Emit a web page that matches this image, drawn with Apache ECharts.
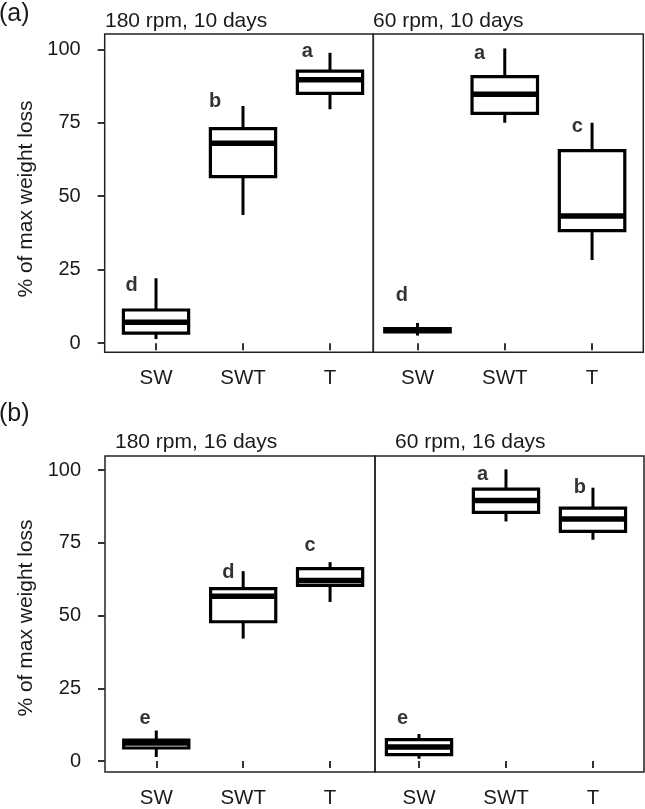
<!DOCTYPE html>
<html>
<head>
<meta charset="utf-8">
<script src="https://cdn.jsdelivr.net/npm/echarts@6/dist/echarts.min.js"></script>
<style>
html,body{margin:0;padding:0;background:#fff;}
#main{width:645px;height:809px;}
</style>
</head>
<body>
<div id="main"></div>
<script>
// ---- data ----
const categories = ['SW', 'SWT', 'T'];
const yTicks = [0, 25, 50, 75, 100];
const panelTitles = ['180 rpm, 10 days', '60 rpm, 10 days', '180 rpm, 16 days', '60 rpm, 16 days'];
// each box: [lower whisker, Q1, median, Q3, upper whisker]
const boxes_180rpm_10d = [[1.4, 3.4, 7.1, 11.3, 22.1], [43.6, 56.7, 68.0, 73.0, 80.7], [79.6, 85.0, 89.6, 92.6, 98.8]];
const boxes_60rpm_10d  = [[2.6, 3.8, 4.4, 5.0, 6.9], [75.0, 78.2, 84.7, 90.7, 100.3], [28.3, 38.3, 43.3, 65.5, 75.0]];
const boxes_180rpm_16d = [[1.4, 4.5, 6.2, 7.2, 10.5], [42.1, 47.9, 56.7, 59.3, 65.3], [54.7, 60.4, 62.1, 66.2, 68.4]];
const boxes_60rpm_16d  = [[0.8, 2.2, 4.8, 7.4, 9.3], [82.4, 85.5, 89.6, 93.5, 100.3], [76.1, 79.0, 83.2, 87.0, 94.0]];
// significance letters: text, x (category index, 1-based), y value
const letters_180rpm_10d = [['d', 0.72, 19.8], ['b', 1.68, 82.2], ['a', 2.74, 99.2]];
const letters_60rpm_10d  = [['d', 0.82, 16.4], ['a', 1.71, 98.6], ['c', 2.83, 73.7]];
const letters_180rpm_16d = [['e', 0.87, 14.5], ['d', 1.83, 64.9], ['c', 2.77, 74.2]];
const letters_60rpm_16d  = [['e', 0.81, 14.5], ['a', 1.73, 98.7], ['b', 2.85, 94.2]];

// ---- layout ----
const FONT = 'Liberation Sans, Arial, Helvetica, sans-serif';
const INK = '#000';
const TXT = '#1a1a1a';
const BOX_W = 0.75;

const panels = [
  {boxes: boxes_180rpm_10d, letters: letters_180rpm_10d, left: 104.7, right: 373.3, top: 34, bottom: 352.3, xmin: 0.41, xmax: 3.498, ymin: -3.1, ymax: 105.2, showY: true},
  {boxes: boxes_60rpm_10d,  letters: letters_60rpm_10d,  left: 373.3, right: 643.3, top: 34, bottom: 352.3, xmin: 0.494, xmax: 3.587, ymin: -3.1, ymax: 105.2, showY: false},
  {boxes: boxes_180rpm_16d, letters: letters_180rpm_16d, left: 105, right: 375, top: 456, bottom: 773.3, xmin: 0.41, xmax: 3.517, ymin: -3.76, ymax: 104.9, showY: true},
  {boxes: boxes_60rpm_16d,  letters: letters_60rpm_16d,  left: 375, right: 644, top: 456, bottom: 773.3, xmin: 0.494, xmax: 3.587, ymin: -3.76, ymax: 104.9, showY: false}
];

function renderBox(params, api) {
  const x = api.value(0);
  const lo = api.coord([x, api.value(1)]);
  const q1 = api.coord([x, api.value(2)]);
  const md = api.coord([x, api.value(3)]);
  const q3 = api.coord([x, api.value(4)]);
  const hi = api.coord([x, api.value(5)]);
  const w = api.size([BOX_W, 0])[0];
  const cx = lo[0];
  const ls = {stroke: INK, lineWidth: 3};
  return {
    type: 'group',
    children: [
      {type: 'line', shape: {x1: cx, y1: hi[1], x2: cx, y2: q3[1]}, style: ls},
      {type: 'line', shape: {x1: cx, y1: q1[1], x2: cx, y2: lo[1]}, style: ls},
      {type: 'rect', shape: {x: cx - w / 2, y: q3[1], width: w, height: q1[1] - q3[1]}, style: {fill: '#fff', stroke: INK, lineWidth: 3.2}},
      {type: 'line', shape: {x1: cx - w / 2 + 1, y1: md[1], x2: cx + w / 2 - 1, y2: md[1]}, style: {stroke: INK, lineWidth: 5.5}}
    ]
  };
}

const grid = [], xAxis = [], yAxis = [], series = [];
panels.forEach((p, i) => {
  grid.push({left: p.left, top: p.top, width: p.right - p.left, height: p.bottom - p.top,
    show: true, borderColor: '#222', borderWidth: 1.5, backgroundColor: 'transparent', containLabel: false});
  xAxis.push({type: 'value', gridIndex: i, min: p.xmin, max: p.xmax,
    axisLine: {show: false}, splitLine: {show: false},
    axisTick: {show: true, customValues: [1, 2, 3], length: 7, lineStyle: {color: '#333', width: 2}},
    axisLabel: {show: true, customValues: [1, 2, 3], margin: 16, fontSize: 20.5, color: TXT, fontFamily: FONT,
      align: 'center', verticalAlign: 'top',
      formatter: v => categories[Math.round(v) - 1]}
  });
  yAxis.push({type: 'value', gridIndex: i, min: p.ymin, max: p.ymax,
    axisLine: {show: false}, splitLine: {show: false},
    axisTick: {show: p.showY, customValues: yTicks, length: 7, lineStyle: {color: '#333', width: 2}},
    axisLabel: {show: p.showY, customValues: yTicks, margin: 24, fontSize: 20, color: TXT, fontFamily: FONT,
      align: 'right', verticalAlign: 'middle'}
  });
  series.push({type: 'custom', xAxisIndex: i, yAxisIndex: i,
    data: p.boxes.map((b, k) => [k + 1].concat(b)),
    encode: {x: 0, y: [1, 2, 3, 4, 5]},
    renderItem: renderBox, silent: true, z: 2});
  series.push({type: 'scatter', xAxisIndex: i, yAxisIndex: i, symbolSize: 0, silent: true, z: 3,
    data: p.letters.map(l => ({value: [l[1], l[2]], name: l[0]})),
    label: {show: true, position: 'inside', formatter: d => d.name, fontSize: 20, fontWeight: 'bold', color: INK, fontFamily: FONT}
  });
});

const titleStyle = {fontSize: 21, fontWeight: 'normal', color: TXT, fontFamily: FONT};
const option = {
  backgroundColor: '#fff',
  animation: false,
  title: [
    {text: '(a)', left: -1, top: 2, padding: 0, textStyle: {fontSize: 25, fontWeight: 'normal', color: TXT, fontFamily: FONT}},
    {text: '(b)', left: -1, top: 402, padding: 0, textStyle: {fontSize: 25, fontWeight: 'normal', color: TXT, fontFamily: FONT}},
    {text: panelTitles[0], left: 105, top: 11, padding: 0, textStyle: titleStyle},
    {text: panelTitles[1], left: 373, top: 11, padding: 0, textStyle: titleStyle},
    {text: panelTitles[2], left: 115, top: 432, padding: 0, textStyle: titleStyle},
    {text: panelTitles[3], left: 395, top: 432, padding: 0, textStyle: titleStyle}
  ],
  graphic: [
    {type: 'text', x: 26, y: 199, rotation: Math.PI / 2,
      style: {text: '% of max weight loss', fontSize: 21, fill: TXT, fontFamily: FONT, textAlign: 'center', textVerticalAlign: 'middle'}},
    {type: 'text', x: 26, y: 618, rotation: Math.PI / 2,
      style: {text: '% of max weight loss', fontSize: 21, fill: TXT, fontFamily: FONT, textAlign: 'center', textVerticalAlign: 'middle'}}
  ],
  grid, xAxis, yAxis, series
};

const chart = echarts.init(document.getElementById('main'), null, {renderer: 'canvas'});
chart.setOption(option);
</script>
</body>
</html>
